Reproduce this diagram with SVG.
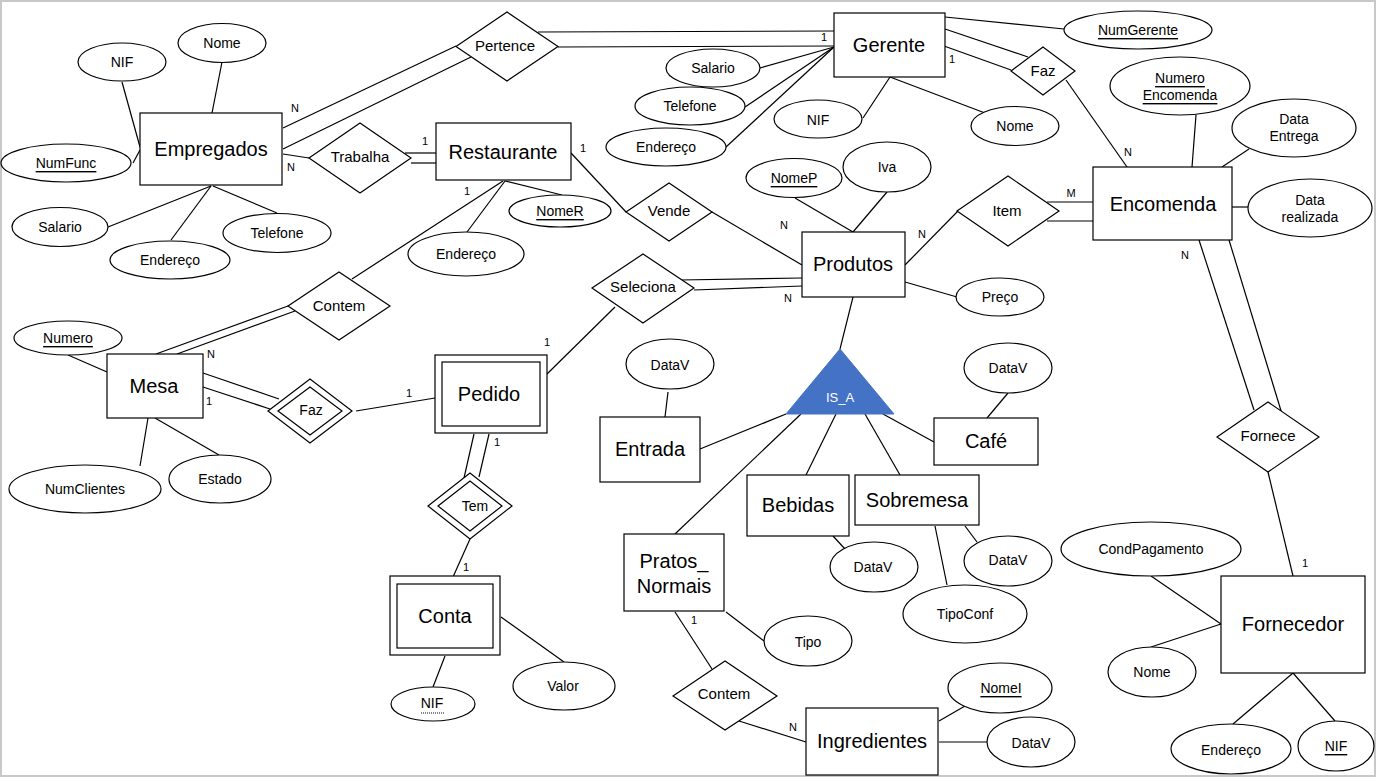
<svg xmlns="http://www.w3.org/2000/svg" width="1376" height="777" viewBox="0 0 1376 777">
<style>
text{font-family:"Liberation Sans",Arial,sans-serif;fill:#000;text-anchor:middle;dominant-baseline:central}
.e{fill:#fff;stroke:#000;stroke-width:1.2}
.a{fill:#fff;stroke:#000;stroke-width:1.2}
.r{fill:#fff;stroke:#000;stroke-width:1.2}
.t{font-size:20px}
.at{font-size:14px}
.rt{font-size:15px}
.c{font-size:11px}
.u{text-decoration:underline}
#connectors line{stroke:#000;stroke-width:1.2}
</style>
<rect x="0" y="0" width="1376" height="777" fill="#fff"/>
<rect x="1" y="1" width="1374" height="775" fill="none" stroke="#c8c8c8" stroke-width="2"/>

<g id="connectors">
<!-- Empregados attrs -->
<line x1="212" y1="113" x2="222" y2="62"/>
<line x1="122" y1="82" x2="140" y2="147"/>
<line x1="133" y1="163" x2="140" y2="150"/>
<line x1="108" y1="227" x2="211" y2="186"/>
<line x1="171" y1="240" x2="211" y2="186"/>
<line x1="277" y1="213" x2="213" y2="186"/>
<!-- Empregados - Pertence -->
<line x1="283" y1="128" x2="456" y2="46"/>
<line x1="283" y1="149" x2="471" y2="57"/>
<!-- Pertence - Gerente -->
<line x1="538" y1="32" x2="834" y2="31"/>
<line x1="558" y1="47" x2="834" y2="46"/>
<!-- Empregados - Trabalha - Restaurante -->
<line x1="283" y1="154" x2="309" y2="158"/>
<line x1="405" y1="153" x2="436" y2="153"/>
<line x1="411" y1="163" x2="436" y2="163"/>
<!-- Restaurante attrs -->
<line x1="505" y1="181" x2="562" y2="195"/>
<line x1="505" y1="181" x2="467" y2="232"/>
<!-- Restaurante - Contem - Mesa -->
<line x1="503" y1="181" x2="352" y2="279"/>
<line x1="156" y1="354" x2="288" y2="306"/>
<line x1="177" y1="354" x2="295" y2="311"/>
<!-- Mesa attrs -->
<line x1="68" y1="355" x2="107" y2="372"/>
<line x1="140" y1="466" x2="148" y2="418"/>
<line x1="219" y1="455" x2="155" y2="418"/>
<!-- Mesa - Faz - Pedido -->
<line x1="203" y1="373" x2="279" y2="399"/>
<line x1="203" y1="387" x2="270" y2="409"/>
<line x1="356" y1="411" x2="435" y2="398"/>
<!-- Pedido - Seleciona -->
<line x1="547" y1="374" x2="615" y2="307"/>
<!-- Pedido - Tem - Conta -->
<line x1="474" y1="434" x2="464" y2="478"/>
<line x1="489" y1="434" x2="479" y2="477"/>
<line x1="470" y1="539" x2="453" y2="577"/>
<!-- Conta attrs -->
<line x1="445" y1="656" x2="433" y2="687"/>
<line x1="501" y1="617" x2="564" y2="662"/>
<!-- Gerente attrs -->
<line x1="760" y1="68" x2="834" y2="47"/>
<line x1="745" y1="107" x2="834" y2="47"/>
<line x1="726" y1="147" x2="834" y2="47"/>
<line x1="863" y1="118" x2="890" y2="77"/>
<line x1="890" y1="77" x2="985" y2="113"/>
<line x1="945" y1="17" x2="1064" y2="29"/>
<!-- Gerente - Faz - Encomenda -->
<line x1="945" y1="29" x2="1028" y2="57"/>
<line x1="944" y1="46" x2="1011" y2="70"/>
<line x1="1066" y1="80" x2="1127" y2="167"/>
<!-- Restaurante - Vende - Produtos -->
<line x1="571" y1="153" x2="626" y2="212"/>
<line x1="712" y1="212" x2="802" y2="265"/>
<!-- Seleciona - Produtos -->
<line x1="680" y1="280" x2="802" y2="278"/>
<line x1="694" y1="290" x2="802" y2="286"/>
<!-- Produtos attrs -->
<line x1="795" y1="198" x2="853" y2="232"/>
<line x1="887" y1="192" x2="853" y2="232"/>
<line x1="905" y1="282" x2="957" y2="297"/>
<!-- Produtos - Item - Encomenda -->
<line x1="905" y1="265" x2="958" y2="211"/>
<line x1="1047" y1="202" x2="1093" y2="202"/>
<line x1="1047" y1="221" x2="1093" y2="221"/>
<!-- Encomenda attrs -->
<line x1="1196" y1="115" x2="1192" y2="167"/>
<line x1="1249" y1="149" x2="1222" y2="167"/>
<line x1="1232" y1="207" x2="1248" y2="207"/>
<!-- Encomenda - Fornece - Fornecedor -->
<line x1="1199" y1="240" x2="1254" y2="410"/>
<line x1="1229" y1="240" x2="1282" y2="414"/>
<line x1="1268" y1="472" x2="1293" y2="576"/>
<!-- Fornecedor attrs -->
<line x1="1151" y1="576" x2="1221" y2="624"/>
<line x1="1151" y1="647" x2="1221" y2="624"/>
<line x1="1233" y1="724" x2="1293" y2="673"/>
<line x1="1335" y1="721" x2="1293" y2="673"/>
<!-- Produtos - IS_A -->
<line x1="853" y1="297" x2="840" y2="349"/>
<!-- IS_A - subclasses -->
<line x1="786" y1="414" x2="700" y2="449"/>
<line x1="801" y1="414" x2="675" y2="534"/>
<line x1="836" y1="414" x2="806" y2="475"/>
<line x1="865" y1="414" x2="900" y2="475"/>
<line x1="883" y1="414" x2="934" y2="442"/>
<!-- subclass attrs -->
<line x1="668" y1="392" x2="665" y2="417"/>
<line x1="1008" y1="393" x2="987" y2="418"/>
<line x1="833" y1="536" x2="845" y2="549"/>
<line x1="965" y1="526" x2="977" y2="542"/>
<line x1="935" y1="526" x2="947" y2="585"/>
<line x1="726" y1="612" x2="764" y2="641"/>
<!-- Pratos - Contem - Ingredientes -->
<line x1="675" y1="612" x2="712" y2="669"/>
<line x1="739" y1="721" x2="806" y2="742"/>
<line x1="939" y1="721" x2="965" y2="706"/>
<line x1="939" y1="742" x2="987" y2="742"/>
<!-- cardinalities -->
<text class="c" x="295" y="108">N</text>
<text class="c" x="291" y="167">N</text>
<text class="c" x="824" y="37">1</text>
<text class="c" x="425" y="141">1</text>
<text class="c" x="467" y="191">1</text>
<text class="c" x="583" y="148">1</text>
<text class="c" x="211" y="354">N</text>
<text class="c" x="209" y="401">1</text>
<text class="c" x="409" y="393">1</text>
<text class="c" x="547" y="342">1</text>
<text class="c" x="497" y="442">1</text>
<text class="c" x="466" y="567">1</text>
<text class="c" x="784" y="225">N</text>
<text class="c" x="788" y="298">N</text>
<text class="c" x="922" y="234">N</text>
<text class="c" x="1071" y="193">M</text>
<text class="c" x="952" y="59">1</text>
<text class="c" x="1128" y="152">N</text>
<text class="c" x="1185" y="255">N</text>
<text class="c" x="1305" y="563">1</text>
<text class="c" x="694" y="620">1</text>
<text class="c" x="793" y="727">N</text>
</g>

<g id="Empregados"><rect class="e" x="140" y="113" width="142" height="72"/><text class="t" x="211" y="149">Empregados</text></g>
<g id="Emp_Nome"><ellipse class="a" cx="222" cy="43" rx="44" ry="19.5"/><text class="at" x="222" y="43">Nome</text></g>
<g id="Emp_NIF"><ellipse class="a" cx="122" cy="62" rx="44" ry="19"/><text class="at" x="122" y="62">NIF</text></g>
<g id="Emp_NumFunc"><ellipse class="a" cx="66" cy="163" rx="65" ry="19"/><text class="at u" x="66" y="163">NumFunc</text></g>
<g id="Emp_Salario"><ellipse class="a" cx="60" cy="227" rx="48" ry="19.5"/><text class="at" x="60" y="227">Salario</text></g>
<g id="Emp_Endereco"><ellipse class="a" cx="170" cy="260" rx="60" ry="19"/><text class="at" x="170" y="260">Endereço</text></g>
<g id="Emp_Telefone"><ellipse class="a" cx="277" cy="233" rx="54" ry="19.5"/><text class="at" x="277" y="233">Telefone</text></g>

<g id="Pertence"><polygon class="r" points="456,46.5 507,12 558,46.5 507,81"/><text class="rt" x="505" y="45">Pertence</text></g>
<g id="Trabalha"><polygon class="r" points="309,158 360,123 411,158 360,193"/><text class="rt" x="360" y="156">Trabalha</text></g>

<g id="Restaurante"><rect class="e" x="436" y="123" width="135" height="57"/><text class="t" x="503" y="152">Restaurante</text></g>
<g id="Rest_NomeR"><ellipse class="a" cx="560" cy="211" rx="51" ry="16"/><text class="at u" x="560" y="211">NomeR</text></g>
<g id="Rest_Endereco"><ellipse class="a" cx="466" cy="254" rx="58" ry="22"/><text class="at" x="466" y="254">Endereço</text></g>

<g id="Gerente"><rect class="e" x="834" y="13" width="111" height="64"/><text class="t" x="889" y="45">Gerente</text></g>
<g id="Ger_Salario"><ellipse class="a" cx="713" cy="68" rx="47" ry="19"/><text class="at" x="713" y="68">Salario</text></g>
<g id="Ger_Telefone"><ellipse class="a" cx="690" cy="106" rx="55" ry="19"/><text class="at" x="690" y="106">Telefone</text></g>
<g id="Ger_Endereco"><ellipse class="a" cx="666" cy="147" rx="60" ry="19"/><text class="at" x="666" y="147">Endereço</text></g>
<g id="Ger_NIF"><ellipse class="a" cx="818" cy="119" rx="44" ry="19"/><text class="at" x="818" y="120">NIF</text></g>
<g id="Ger_Nome"><ellipse class="a" cx="1015" cy="126" rx="44" ry="19.5"/><text class="at" x="1015" y="126">Nome</text></g>
<g id="Ger_NumGerente"><ellipse class="a" cx="1138" cy="30" rx="74" ry="19"/><text class="at u" x="1138" y="30">NumGerente</text></g>
<g id="Faz_Encomenda"><polygon class="r" points="1011,71 1043,47 1075,71 1043,95"/><text class="rt" x="1043" y="70">Faz</text></g>

<g id="Encomenda"><rect class="e" x="1093" y="167" width="139" height="73"/><text class="t" x="1163" y="204">Encomenda</text></g>
<g id="Enc_Numero"><ellipse class="a" cx="1180" cy="86" rx="70" ry="29"/><text class="at u" x="1180" y="78">Numero</text><text class="at u" x="1180" y="95">Encomenda</text></g>
<g id="Enc_DataEntrega"><ellipse class="a" cx="1294" cy="128" rx="62" ry="29"/><text class="at" x="1294" y="119">Data</text><text class="at" x="1294" y="136">Entrega</text></g>
<g id="Enc_DataRealizada"><ellipse class="a" cx="1310" cy="208" rx="62" ry="29"/><text class="at" x="1310" y="200">Data</text><text class="at" x="1310" y="217">realizada</text></g>
<g id="Item"><polygon class="r" points="957,211 1008,176 1059,211 1008,246"/><text class="rt" x="1007" y="210">Item</text></g>

<g id="Vende"><polygon class="r" points="626,212 669,183 712,212 669,241"/><text class="rt" x="669" y="210">Vende</text></g>
<g id="Seleciona"><polygon class="r" points="592,288 643,254 694,288 643,323"/><text class="rt" x="643" y="286">Seleciona</text></g>

<g id="Produtos"><rect class="e" x="802" y="232" width="103" height="65"/><text class="t" x="853" y="264">Produtos</text></g>
<g id="Prod_NomeP"><ellipse class="a" cx="794" cy="178" rx="48" ry="19.5"/><text class="at u" x="794" y="178">NomeP</text></g>
<g id="Prod_Iva"><ellipse class="a" cx="887" cy="167" rx="44" ry="25"/><text class="at" x="887" y="167">Iva</text></g>
<g id="Prod_Preco"><ellipse class="a" cx="1000" cy="297" rx="44" ry="19"/><text class="at" x="1000" y="297">Preço</text></g>

<g id="Contem_Mesa"><polygon class="r" points="288,306 339,272 390,306 339,340"/><text class="rt" x="339" y="305">Contem</text></g>

<g id="Mesa"><rect class="e" x="107" y="354" width="96" height="64"/><text class="t" x="154" y="386">Mesa</text></g>
<g id="Mesa_Numero"><ellipse class="a" cx="68" cy="338" rx="54" ry="17"/><text class="at u" x="68" y="338">Numero</text></g>
<g id="Mesa_NumClientes"><ellipse class="a" cx="85" cy="489" rx="76" ry="24"/><text class="at" x="85" y="489">NumClientes</text></g>
<g id="Mesa_Estado"><ellipse class="a" cx="220" cy="479" rx="51" ry="24"/><text class="at" x="220" y="479">Estado</text></g>

<g id="Faz_Pedido"><polygon class="r" points="268,411 310,379 352,411 310,443"/><polygon class="r" points="278,411 310,387 342,411 310,435"/><text class="at" x="311" y="410">Faz</text></g>

<g id="Pedido"><rect class="e" x="435" y="355" width="112" height="78"/><rect class="e" x="442" y="362" width="98" height="64"/><text class="t" x="489" y="394">Pedido</text></g>
<g id="Tem"><polygon class="r" points="428,506 470,473 512,506 470,539"/><polygon class="r" points="438,506 470,481 502,506 470,531"/><text class="at" x="475" y="506">Tem</text></g>
<g id="Conta"><rect class="e" x="390" y="576" width="110" height="79"/><rect class="e" x="397" y="584" width="96" height="64"/><text class="t" x="445" y="616">Conta</text></g>
<g id="Conta_NIF"><ellipse class="a" cx="433" cy="704" rx="42" ry="17"/><text class="at" x="432" y="703">NIF</text><line x1="421" y1="713" x2="444" y2="713" stroke="#000" stroke-width="1" stroke-dasharray="1,1"/></g>
<g id="Conta_Valor"><ellipse class="a" cx="564" cy="686" rx="51" ry="24"/><text class="at" x="563" y="686">Valor</text></g>

<g id="IS_A"><polygon points="840,349 786,414 894,414" fill="#4472c4" stroke="#4472c4"/><text x="840" y="397" style="font-size:13px;fill:#fff">IS_A</text></g>

<g id="Entrada"><rect class="e" x="600" y="417" width="100" height="65"/><text class="t" x="650" y="449">Entrada</text></g>
<g id="Entrada_DataV"><ellipse class="a" cx="670" cy="364" rx="44" ry="25"/><text class="at" x="670" y="365">DataV</text></g>
<g id="Cafe"><rect class="e" x="934" y="418" width="104" height="47"/><text class="t" x="986" y="441">Café</text></g>
<g id="Cafe_DataV"><ellipse class="a" cx="1008" cy="368" rx="44" ry="25"/><text class="at" x="1008" y="368">DataV</text></g>
<g id="Bebidas"><rect class="e" x="747" y="475" width="102" height="61"/><text class="t" x="798" y="505">Bebidas</text></g>
<g id="Bebidas_DataV"><ellipse class="a" cx="874" cy="567" rx="44" ry="25"/><text class="at" x="873" y="567">DataV</text></g>
<g id="Sobremesa"><rect class="e" x="855" y="475" width="124" height="50"/><text class="t" x="917" y="500">Sobremesa</text></g>
<g id="Sobremesa_DataV"><ellipse class="a" cx="1008" cy="561" rx="44" ry="25"/><text class="at" x="1008" y="560">DataV</text></g>
<g id="Sobremesa_TipoConf"><ellipse class="a" cx="965" cy="614" rx="62" ry="29"/><text class="at" x="965" y="614">TipoConf</text></g>
<g id="Pratos_Normais"><rect class="e" x="624" y="534" width="100" height="77"/><text class="t" x="674" y="561">Pratos_</text><text class="t" x="674" y="586">Normais</text></g>
<g id="Pratos_Tipo"><ellipse class="a" cx="808" cy="641" rx="44" ry="25"/><text class="at" x="808" y="642">Tipo</text></g>
<g id="Contem_Ingredientes"><polygon class="r" points="673,696 725,661 777,696 725,730"/><text class="rt" x="724" y="693">Contem</text></g>
<g id="Ingredientes"><rect class="e" x="806" y="708" width="132" height="67"/><text class="t" x="872" y="741">Ingredientes</text></g>
<g id="Ing_NomeI"><ellipse class="a" cx="1000" cy="688" rx="52" ry="25"/><text class="at u" x="1001" y="688">NomeI</text></g>
<g id="Ing_DataV"><ellipse class="a" cx="1031" cy="742" rx="44" ry="25"/><text class="at" x="1031" y="743">DataV</text></g>

<g id="Fornece"><polygon class="r" points="1217,437 1268,402 1319,437 1268,472"/><text class="rt" x="1268" y="435">Fornece</text></g>
<g id="Fornecedor"><rect class="e" x="1221" y="576" width="144" height="97"/><text class="t" x="1293" y="624">Fornecedor</text></g>
<g id="Forn_CondPagamento"><ellipse class="a" cx="1151" cy="549" rx="90" ry="27"/><text class="at" x="1151" y="549">CondPagamento</text></g>
<g id="Forn_Nome"><ellipse class="a" cx="1152" cy="672" rx="44" ry="25"/><text class="at" x="1152" y="672">Nome</text></g>
<g id="Forn_Endereco"><ellipse class="a" cx="1231" cy="749" rx="60" ry="25"/><text class="at" x="1231" y="750">Endereço</text></g>
<g id="Forn_NIF"><ellipse class="a" cx="1336" cy="746" rx="38" ry="25"/><text class="at u" x="1336" y="746">NIF</text></g>
</svg>
